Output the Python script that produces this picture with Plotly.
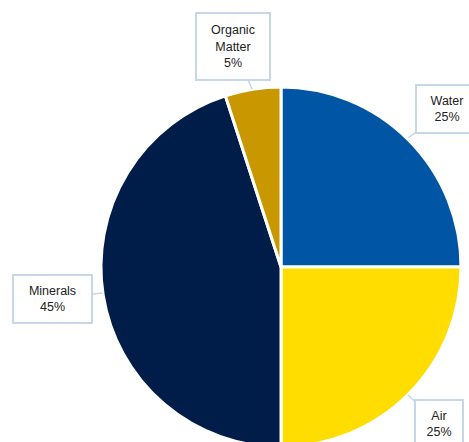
import plotly.graph_objects as go

labels = ["Water", "Air", "Minerals", "Organic Matter"]
values = [25, 25, 45, 5]
colors = ["#0055A5", "#FFDD00", "#001C48", "#C99800"]
callout_text = ["Water<br>25%", "Air<br>25%", "Minerals<br>45%", "Organic<br>Matter<br>5%"]

W, H = 469, 460

fig = go.Figure(go.Pie(
    labels=labels, values=values, sort=False, direction="clockwise", rotation=0,
    marker=dict(colors=colors, line=dict(color="white", width=3)),
    textinfo="none", showlegend=False,
    domain=dict(x=[101 / W, 461 / W], y=[1 - 447 / H, 1 - 87 / H]),
))

# callout geometry in pixels: tip (x, y), box centre offset, box size
callouts = [
    ((408, 138), (39, -29), (58, 44)),
    ((408, 395), (31, 29), (44, 44)),
    ((102, 293), (-50, 6), (75, 44)),
    ((252, 89), (-19, -43), (70, 63)),
]
for txt, (tip, off, size) in zip(callout_text, callouts):
    fig.add_annotation(
        x=tip[0] / W, y=1 - tip[1] / H, xref="paper", yref="paper",
        ax=off[0], ay=off[1], axref="pixel", ayref="pixel",
        text=txt, showarrow=True, arrowhead=0, arrowwidth=1.5, arrowcolor="#C6D6EC",
        standoff=0, startstandoff=0,
        bgcolor="white", bordercolor="#C6D6EC", borderwidth=2, borderpad=1,
        width=size[0], height=size[1],
        font=dict(family="Liberation Sans, Arial", size=12.5, color="#222222"),
        align="center", valign="middle",
    )

fig.update_layout(
    width=W, height=H, margin=dict(l=0, r=0, t=0, b=0),
    paper_bgcolor="white", plot_bgcolor="white",
)

fig.write_html(
    "out.html",
    config={"displayModeBar": False},
    post_script="document.body.style.margin='0';document.body.style.overflow='hidden';document.documentElement.style.overflow='hidden';",
)
